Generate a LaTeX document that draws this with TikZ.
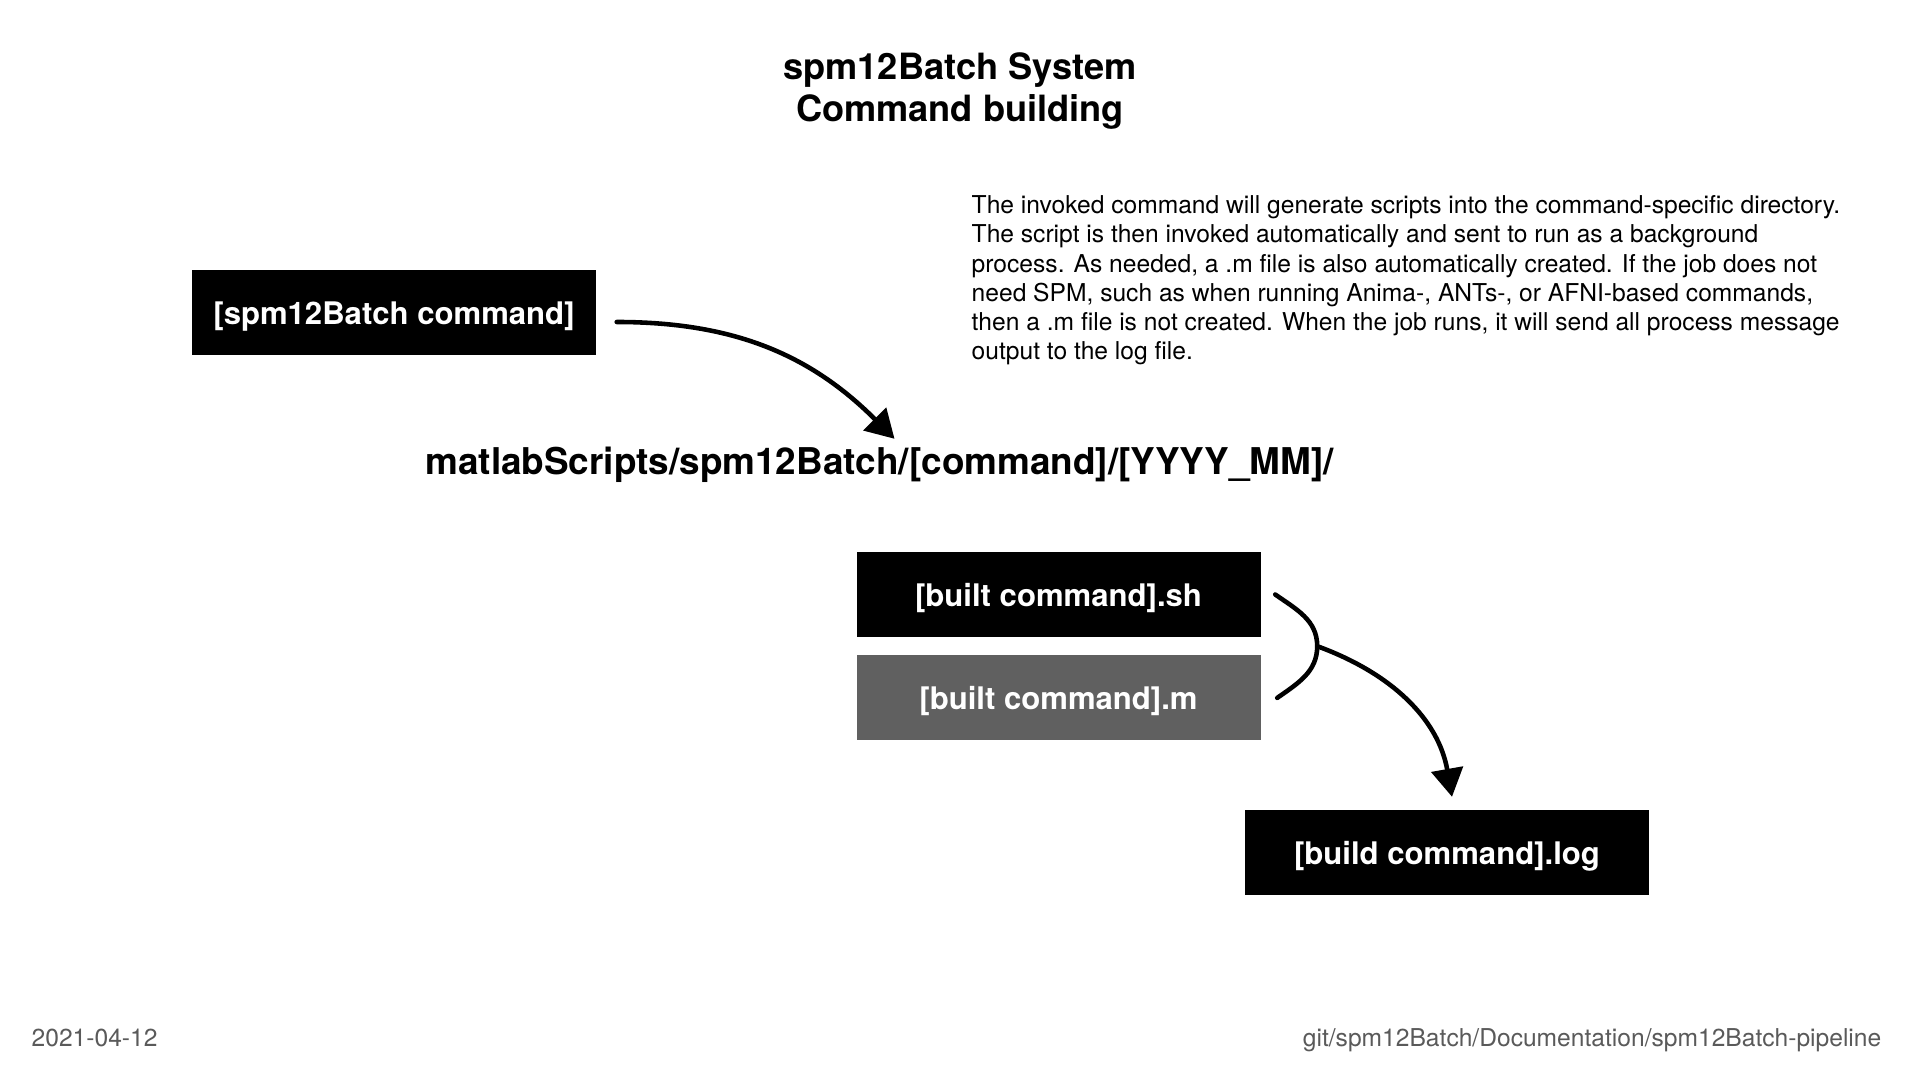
\documentclass[tikz,border=0pt]{standalone}
\usepackage{fontspec}
\setmainfont{TeX Gyre Heros}
\usetikzlibrary{arrows.meta,calc,positioning}
\definecolor{boxgray}{HTML}{606060}
\definecolor{footgray}{HTML}{5A5A5A}
\tikzset{
    block/.style = {fill=black, text=white, rectangle,
        minimum height=0.85cm,
        minimum width=4.04cm, text depth=0pt,
        font=\fontsize{8.85}{10}\selectfont\bfseries},
    heading/.style = {align=center, inner sep=0pt,
        font=\fontsize{10.3}{12.2}\selectfont\bfseries},
    dirpath/.style = {inner sep=0pt, font=\fontsize{10.5}{12}\selectfont\bfseries},
    note/.style = {align=left, inner sep=0pt, font=\fontsize{7}{8.3}\selectfont},
    footer/.style = {inner sep=0pt, text=footgray, font=\fontsize{7}{8.4}\selectfont},
    sketch/.style = {line width=1.3pt, line cap=round},
}

\begin{document}
\begin{tikzpicture}[>={Triangle[length=8pt,width=9pt]}]
	\fill[white] (0,0) rectangle (19.2,10.8);
	\useasboundingbox (0,0) rectangle (19.2,10.8);
	
	% heading
	\node (title) [heading, anchor=north] at (9.6,10.285) {spm12Batch System\\Command building};
	
	% diagram blocks
	\node (batchCmd) [block] at (3.94,7.67) {[spm12Batch command]};
	\node (cmdDir) [dirpath, anchor=base] at (8.795,6.05) {matlabScripts/spm12Batch/[command]/[YYYY\_MM]/};
	\node (builtSh) [block] at (10.585,4.855) {[built command].sh};
	\node (builtM) [block, fill=boxgray, below=0.17cm of builtSh] {[built command].m};
	\node (buildLog) [block] at (14.47,2.27) {[build command].log};
	
	\node (note) [note, anchor=north west] at (9.71,8.85) {The invoked command will generate scripts into the command-specific directory.\\The script is then invoked automatically and sent to run as a background\\process. As needed, a .m file is also automatically created. If the job does not\\need SPM, such as when running Anima-, ANTs-, or AFNI-based commands,\\then a .m file is not created. When the job runs, it will send all process message\\output to the log file.};
	
	% footer
	\node (date) [footer, anchor=base west] at (0.31,0.33) {2021-04-12};
	\node (repo) [footer, anchor=base east] at (18.82,0.33) {git/spm12Batch/Documentation/spm12Batch-pipeline};
	
	% edges
	\draw [->, sketch] ([xshift=0.2cm,yshift=-0.09cm]batchCmd.east) to[out=0,in=135] ([xshift=0.15cm,yshift=0.08cm]cmdDir.north);
	
	\coordinate (fork) at ($(builtSh.east)!0.5!(builtM.east) + (0.56,0)$);
	\draw [sketch] ([xshift=0.14cm]builtSh.east) to[out=-35,in=90] (fork) to[out=-90,in=35] ([xshift=0.16cm]builtM.east);
	\draw [->, sketch] (fork) to[out=-20,in=100] ([xshift=0.05cm,yshift=0.13cm]buildLog.north);
	
\end{tikzpicture}
\end{document}
